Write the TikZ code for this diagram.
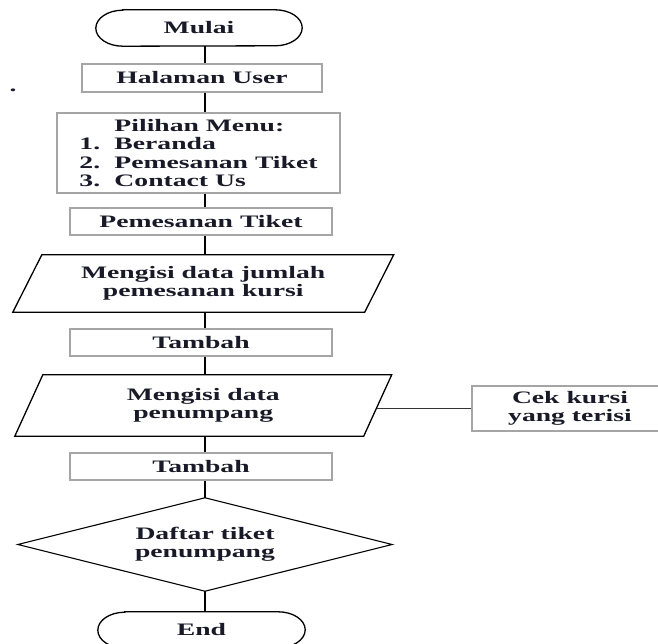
\documentclass[tikz,border=0pt]{standalone}
\usepackage{fontspec}
\setmainfont[FakeStretch=1.58]{Liberation Serif}
\definecolor{boxgray}{RGB}{165,165,165}
\definecolor{txtc}{RGB}{25,25,40}
\begin{document}
\begin{tikzpicture}[x=1pt,y=-1pt,
  every node/.style={font=\fontsize{17.5}{18.3}\selectfont\bfseries, inner sep=0pt, text=txtc},
  gbox/.style 2 args={draw=boxgray, line width=1.2pt, minimum width=#1, minimum height=#2},
  ghost/.style 2 args={minimum width=#1, minimum height=#2},
  outline/.style={draw=black, line width=1.3pt},
  thickline/.style={draw=black, line width=1.8pt},
  thinline/.style={draw=black, line width=1.1pt},
  sideline/.style={draw=black!80, line width=0.8pt}
]
\useasboundingbox (0,0) rectangle (658,644);
\coordinate (ax) at (205,0);

% nodes
\node[ghost={206pt}{36pt}] (mulai) at (199,28) {Mulai};
\node[gbox={240pt}{28pt}] (halaman) at (202,78) {Halaman User};
\node[gbox={283pt}{80pt}, align=left] (menu) at (198.5,153)
  {\hspace*{35pt}Pilihan Menu:\\\makebox[35pt][l]{1.}Beranda\\\makebox[35pt][l]{2.}Pemesanan Tiket\\\makebox[35pt][l]{3.}Contact Us};
\node[gbox={262pt}{27pt}] (tiket) at (201,221.5) {Pemesanan Tiket};
\node[ghost={351.5pt}{57pt}, align=center] (p1) at (203.25,283.5) {Mengisi data jumlah\\pemesanan kursi};
\node[gbox={262pt}{27pt}] (tambah1) at (201,342.5) {Tambah};
\node[ghost={348.5pt}{61pt}, align=center] (p2) at (203.25,405.5) {Mengisi data\\penumpang};
\node[gbox={196pt}{45pt}, align=center] (cek) at (570,408.5) {Cek kursi\\yang terisi};
\node[gbox={262pt}{27pt}] (tambah2) at (201,466.5) {Tambah};
\node[ghost={374pt}{93pt}, align=center] (daftar) at (205,544.5) {Daftar tiket\\penumpang};
\node[ghost={207pt}{36pt}] (end) at (201.5,630) {End};
\node (dot) at (13,90) {.};

% shapes
\draw[outline] ([xshift=27pt]mulai.north west) -- ([xshift=-27pt]mulai.north east)
  arc[start angle=90,end angle=-90,x radius=27pt,y radius=18pt]
  -- ([xshift=27pt]mulai.south west)
  arc[start angle=270,end angle=90,x radius=27pt,y radius=18pt] -- cycle;
\draw[outline] ([xshift=27pt]end.north west) -- ([xshift=-27pt]end.north east)
  arc[start angle=90,end angle=-90,x radius=27pt,y radius=18pt]
  -- ([xshift=27pt]end.south west)
  arc[start angle=270,end angle=90,x radius=27pt,y radius=18pt] -- cycle;
\draw[outline] ([xshift=14.5pt]p1.north west) -- ([xshift=14.5pt]p1.north east)
  -- ([xshift=-14.5pt]p1.south east) -- ([xshift=-14.5pt]p1.south west) -- cycle;
\draw[outline] ([xshift=14pt]p2.north west) -- ([xshift=14pt]p2.north east)
  -- ([xshift=-14pt]p2.south east) -- ([xshift=-14pt]p2.south west) -- cycle;
\draw[outline, line width=1.1pt] (daftar.north) -- (daftar.east) -- (daftar.south) -- (daftar.west) -- cycle;

% connectors
\draw[thickline] (mulai.south -| ax) -- (halaman.north -| ax);
\draw[thickline] (halaman.south -| ax) -- (menu.north -| ax);
\draw[thickline] (menu.south -| ax) -- (tiket.north -| ax);
\draw[thickline] (tiket.south -| ax) -- (p1.north -| ax);
\draw[thinline] (p1.south -| ax) -- (tambah1.north -| ax);
\draw[thinline] (tambah1.south -| ax) -- (p2.north -| ax);
\draw[thinline] (p2.south -| ax) -- (tambah2.north -| ax);
\draw[thinline] (tambah2.south -| ax) -- (daftar.north);
\draw[thinline] (daftar.south) -- (end.north -| daftar.south);
\draw[sideline] ([xshift=-1pt]cek.west -| p2.east) -- (cek.west);
\end{tikzpicture}
\end{document}
